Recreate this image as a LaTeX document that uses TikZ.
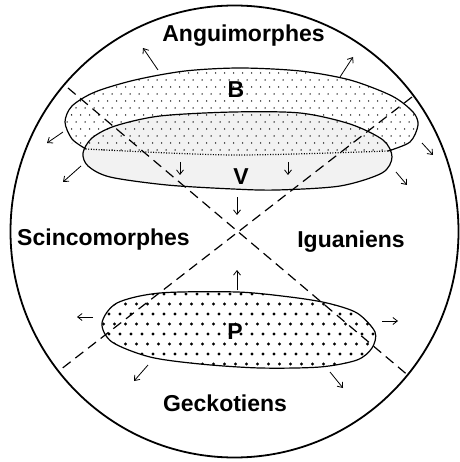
\documentclass[tikz,border=0pt]{standalone}
\usepackage{xcolor}
\usepackage{fontspec}
\setmainfont{Liberation Sans}
\usepackage{tikz}
\usetikzlibrary{arrows.meta, calc}
\tikzstyle{arrow} = [line width=0.8pt,-{Straight Barb[length=4.5pt,width=7pt]}]
\tikzstyle{zone} = [font=\fontsize{23}{23}\selectfont\bfseries, anchor=base, inner sep=0pt]
\tikzstyle{outline} = [line width=1.2pt]
\tikzstyle{divide} = [line width=1.2pt, dash pattern=on 10pt off 6pt]

\begin{document}
\begin{tikzpicture}[x=1pt, y=-1pt]
    \useasboundingbox (0,0) rectangle (459,462);

    % V shading
    \fill[gray!10] plot[smooth cycle] coordinates {(83,153) (92,138) (115,126) (160,116) (233,112) (300,113) (350,124) (383,140) (392,157) (382,173) (340,186) (277,190) (233,189) (167,185) (110,177) (88,166)};

    % B dots
    \begin{scope}
        \clip plot[smooth cycle] coordinates {(86,149) (72,139) (65,122) (72,106) (95,92) (135,80) (185,71) (240,68) (300,71) (350,80) (392,96) (413,112) (418,125) (410,142) (388,151) (233,155)};
        \foreach \r in {0,...,13}
            \foreach \c in {0,...,42}
                \fill ({58+\c*9+mod(\r,2)*4.5},{66+\r*7}) circle (0.75);
    \end{scope}

    % P dots
    \begin{scope}
        \clip plot[smooth cycle] coordinates {(102,323) (117,303) (160,293) (237,292) (290,297) (327,303) (357,313) (375,332) (372,348) (357,360) (320,367) (260,368) (200,364) (150,357) (112,342)};
        \foreach \r in {0,...,8}
            \foreach \c in {0,...,26}
                \fill ({98+\c*11+mod(\r,2)*5.5},{294+\r*10}) circle (1.55);
    \end{scope}

    % B, V and P outlines
    \draw[outline] plot[smooth] coordinates {(86,149) (72,139) (65,122) (72,106) (95,92) (135,80) (185,71) (240,68) (300,71) (350,80) (392,96) (413,112) (418,125) (410,142) (388,151)};
    \draw[line width=1.2pt, dash pattern=on 1pt off 1.6pt] plot[smooth] coordinates {(388,151) (233,155) (86,149)};
    \draw[outline] plot[smooth cycle] coordinates {(83,153) (92,138) (115,126) (160,116) (233,112) (300,113) (350,124) (383,140) (392,157) (382,173) (340,186) (277,190) (233,189) (167,185) (110,177) (88,166)};
    \draw[outline] plot[smooth cycle] coordinates {(102,323) (117,303) (160,293) (237,292) (290,297) (327,303) (357,313) (375,332) (372,348) (357,360) (320,367) (260,368) (200,364) (150,357) (112,342)};

    % Circle
    \draw[line width=1.8pt] (234.5,231.5) ellipse [x radius=224, y radius=226];

    % Dashed lines
    \coordinate (nw) at (68,88);
    \coordinate (se) at (410,377);
    \coordinate (ne) at (412,97);
    \coordinate (sw) at (60,370);
    \draw[divide] (nw) -- (se);
    \draw[divide] (ne) -- (sw);

    % Arrows round B and V
    \draw[arrow] (158,70) -- (143,48);
    \draw[arrow] (340,77) -- (353,57);
    \draw[arrow] (63,132) -- (47,143);
    \draw[arrow] (81,166) -- (63,182);
    \draw[arrow] (422,143) -- (433,155);
    \draw[arrow] (396,172) -- (407,185);
    \draw[arrow] (180,162) -- (180,175);
    \draw[arrow] (288,162) -- (288,175);
    \draw[arrow] (237,197) -- (237,215);

    % Arrows round P
    \draw[arrow] (237,290) -- (237,270);
    \draw[arrow] (93,317) -- (77,317);
    \draw[arrow] (382,321) -- (398,321);
    \draw[arrow] (148,365) -- (134,381);
    \draw[arrow] (330,372) -- (343,388);

    % Etiquettes
    \node (angui) [zone] at (243.5,42) {Anguimorphes};
    \node (scinco) [zone] at (103.5,245) {Scincomorphes};
    \node (iguan) [zone] at (351,247) {Iguaniens};
    \node (gecko) [zone] at (225,411) {Geckotiens};
    \node (b) [zone] at (236,98) {B};
    \node (v) [zone] at (241,185) {V};
    \node (p) [zone] at (235,339) {P};
\end{tikzpicture}
\end{document}
